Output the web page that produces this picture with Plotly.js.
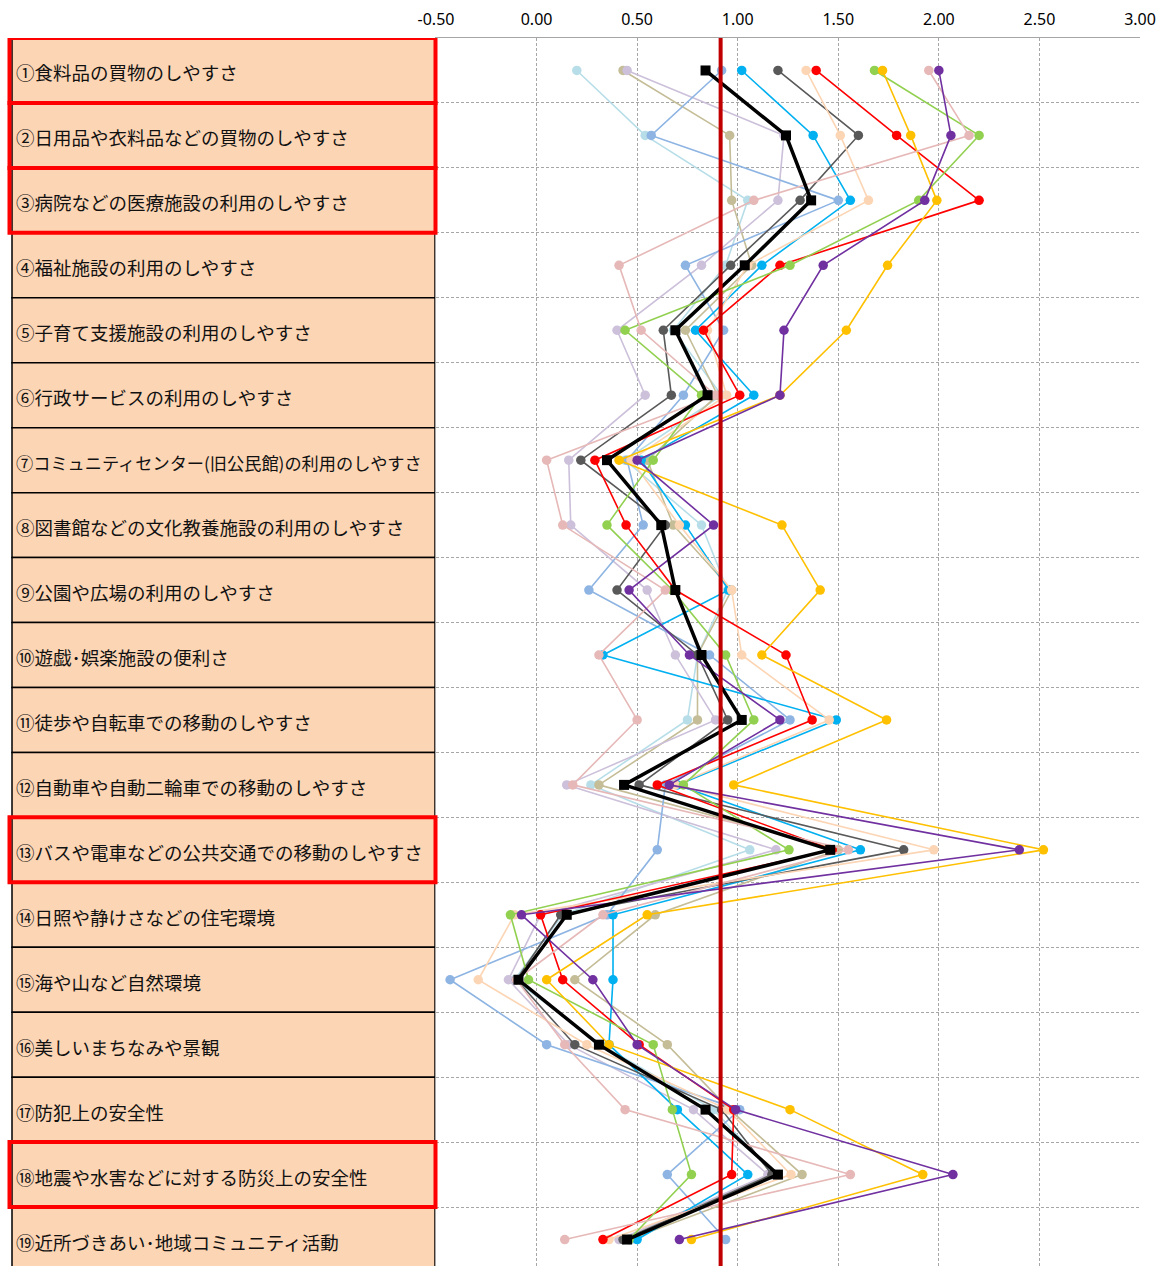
<!DOCTYPE html>
<html><head><meta charset="utf-8">
<script src="https://cdn.plot.ly/plotly-3.0.1.min.js"></script>
<style>html,body{margin:0;padding:0;overflow:hidden;background:#fff}</style>
</head><body><div id="chart"></div>
<script>
const categories = [
  "①食料品の買物のしやすさ",
  "②日用品や衣料品などの買物のしやすさ",
  "③病院などの医療施設の利用のしやすさ",
  "④福祉施設の利用のしやすさ",
  "⑤子育て支援施設の利用のしやすさ",
  "⑥行政サービスの利用のしやすさ",
  "⑦コミュニティセンター(旧公民館)の利用のしやすさ",
  "⑧図書館などの文化教養施設の利用のしやすさ",
  "⑨公園や広場の利用のしやすさ",
  "⑩遊戯･娯楽施設の便利さ",
  "⑪徒歩や自転車での移動のしやすさ",
  "⑫自動車や自動二輪車での移動のしやすさ",
  "⑬バスや電車などの公共交通での移動のしやすさ",
  "⑭日照や静けさなどの住宅環境",
  "⑮海や山など自然環境",
  "⑯美しいまちなみや景観",
  "⑰防犯上の安全性",
  "⑱地震や水害などに対する防災上の安全性",
  "⑲近所づきあい･地域コミュニティ活動"
];
const xTickValues = [-0.5, 0, 0.5, 1, 1.5, 2, 2.5, 3];
const xTickLabels = ["-0.50", "0.00", "0.50", "1.00", "1.50", "2.00", "2.50", "3.00"];
const highlightedRows = [0, 1, 2, 12, 17];
const referenceValue = 0.915;

const seriesLightBlue  = [0.20,0.54,1.05,0.94,0.68,0.92,0.44,0.82,0.95,0.80,0.75,0.27,1.06,0.13,-0.11,0.32,0.88,1.18,0.47];
const seriesTan        = [0.43,0.96,0.97,1.07,0.74,0.90,0.55,0.68,0.97,0.80,0.80,0.31,1.50,0.59,0.19,0.65,0.96,1.32,0.46];
const seriesLavender   = [0.45,1.23,1.20,0.82,0.40,0.54,0.16,0.17,0.55,0.69,0.89,0.15,1.19,0.02,-0.14,0.16,0.78,1.15,0.41];
const seriesCornflower = [0.92,0.57,1.50,0.74,0.93,0.73,0.45,0.53,0.26,0.86,1.26,0.64,0.60,0.35,-0.43,0.05,1.01,0.65,0.94];
const seriesSky        = [1.02,1.375,1.56,1.12,0.79,1.08,0.52,0.74,0.955,0.33,1.49,0.70,1.61,0.38,0.38,0.36,0.70,1.05,0.50];
const seriesDarkGray   = [1.20,1.60,1.31,0.965,0.63,0.67,0.22,0.64,0.40,0.80,0.95,0.51,1.825,0.12,-0.10,0.19,0.92,1.17,0.43];
const seriesPeach      = [1.34,1.51,1.65,1.05,0.85,0.945,0.47,0.71,0.97,1.02,1.455,0.69,1.975,-0.11,-0.29,0.25,0.95,1.265,0.36];
const seriesRed        = [1.39,1.79,2.20,1.21,0.83,1.01,0.29,0.445,0.69,1.24,1.37,0.60,1.47,0.02,0.13,0.51,0.98,0.97,0.33];
const seriesGreen      = [1.68,2.20,1.90,1.26,0.44,0.82,0.58,0.35,0.675,0.94,1.08,0.73,1.255,-0.13,-0.04,0.58,0.675,0.77,0.46];
const seriesGold       = [1.72,1.86,1.99,1.745,1.54,1.21,0.41,1.22,1.41,1.12,1.74,0.98,2.52,0.55,0.05,0.36,1.26,1.92,0.77];
const seriesPink       = [1.95,2.15,1.08,0.41,0.52,0.89,0.05,0.13,0.64,0.31,0.50,0.18,1.55,0.33,-0.10,0.14,0.44,1.56,0.14];
const seriesPurple     = [2.00,2.06,1.93,1.425,1.23,1.21,0.50,0.88,0.46,0.76,1.21,0.66,2.40,-0.075,0.28,0.50,0.99,2.07,0.71];
const seriesAverage    = [0.84,1.24,1.365,1.035,0.69,0.85,0.35,0.62,0.69,0.82,1.02,0.435,1.46,0.15,-0.09,0.31,0.84,1.20,0.45];

const colored = [
  [seriesLightBlue, '#B7DEE8'],
  [seriesTan, '#C4BD97'],
  [seriesLavender, '#CCC0DA'],
  [seriesCornflower, '#8DB4E2'],
  [seriesSky, '#00B0F0'],
  [seriesDarkGray, '#595959'],
  [seriesPeach, '#FCD5B4'],
  [seriesRed, '#FF0000'],
  [seriesGreen, '#92D050'],
  [seriesGold, '#FFC000'],
  [seriesPink, '#E6B8B7'],
  [seriesPurple, '#7030A0']
];

const traces = colored.map(([vals, col], k) => ({
  type: 'scatter', mode: 'lines+markers', name: '系列' + (k + 1),
  x: vals, y: categories,
  line: {color: col, width: 1.6},
  marker: {color: col, size: 9.5, symbol: 'circle'},
  cliponaxis: false
}));
traces.push({
  type: 'scatter', mode: 'lines+markers', name: '平均',
  x: seriesAverage, y: categories,
  line: {color: '#000000', width: 3.5},
  marker: {color: '#000000', size: 10, symbol: 'square'},
  cliponaxis: false
});

const L = 436, R = 1140, W = 1163;
const pw = R - L;
const px = p => (p - L) / pw;

const shapes = [];
const annotations = [];
categories.forEach((c, i) => {
  shapes.push({type: 'rect', xref: 'paper', yref: 'y', x0: px(12), x1: px(435), y0: i - 0.5, y1: i + 0.5,
    fillcolor: '#FCD5B4', line: {color: '#000000', width: 1.5}, layer: 'below'});
  annotations.push({xref: 'paper', yref: 'y', x: px(14), y: c, xanchor: 'left', yanchor: 'middle',
    text: c, showarrow: false, yshift: -2,
    font: {family: 'Noto Sans CJK JP, sans-serif', size: i === 6 ? 17.2 : 18.5, color: '#111111'}});
});
highlightedRows.forEach(i => {
  shapes.push({type: 'rect', xref: 'paper', yref: 'y', x0: px(9.5), x1: px(435.5), y0: i - 0.5, y1: i + 0.5,
    fillcolor: 'rgba(0,0,0,0)', line: {color: '#FF0000', width: 4}, layer: 'above'});
});
shapes.push({type: 'line', xref: 'x', yref: 'paper', x0: referenceValue, x1: referenceValue, y0: 0, y1: 1,
  line: {color: '#C00000', width: 4}, layer: 'above'});

const layout = {
  width: W, height: 1272,
  margin: {l: L, r: W - R, t: 38, b: 0, pad: 0},
  paper_bgcolor: '#ffffff', plot_bgcolor: '#ffffff',
  showlegend: false,
  font: {family: 'Noto Sans, sans-serif', color: '#000000'},
  xaxis: {
    side: 'top', range: [-0.5, 3.0], tickvals: xTickValues, ticktext: xTickLabels,
    showgrid: true, gridcolor: '#A6A6A6', gridwidth: 1, griddash: '3px,2px',
    zeroline: false, showline: true, linecolor: '#A6A6A6', linewidth: 1,
    ticks: '', ticklabelstandoff: 6,
    tickfont: {size: 16, color: '#000000', family: 'Noto Sans, sans-serif'}
  },
  yaxis: {
    type: 'category', categoryorder: 'array', categoryarray: categories,
    range: [18.5, -0.5], tickson: 'boundaries', showticklabels: false, ticks: '',
    showgrid: true, gridcolor: '#A6A6A6', gridwidth: 1, griddash: '3px,2px',
    zeroline: false, showline: true, linecolor: '#A6A6A6', linewidth: 1
  },
  shapes: shapes,
  annotations: annotations
};

Plotly.newPlot('chart', traces, layout, {displayModeBar: false, staticPlot: true});
</script>
</body></html>
